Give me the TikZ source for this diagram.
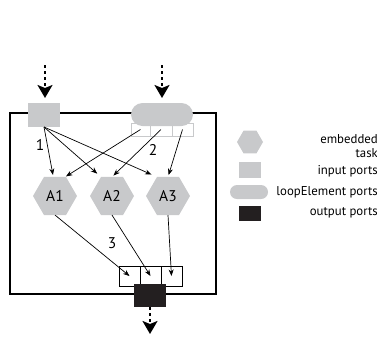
\documentclass[tikz,border=0pt]{standalone}
\usepackage{fontspec}
\setmainfont{PT Sans}
\usetikzlibrary{arrows.meta,shapes.geometric,shapes.misc}
\definecolor{pgray}{RGB}{200,201,203}
\definecolor{pblack}{RGB}{35,31,32}
\begin{document}
\begin{tikzpicture}[x=1pt,y=-1pt,
  hex/.style={regular polygon,regular polygon sides=6,minimum size=#1,fill=pgray,inner sep=0pt,outer sep=0pt,font=\fontsize{15.5}{17}\selectfont},
  inport/.style={rectangle,fill=pgray,minimum width=#1,minimum height=#1*0.7,inner sep=0pt,outer sep=0pt},
  pill/.style={rounded rectangle,fill=pgray,inner sep=0pt,outer sep=0pt},
  lbox/.style={rectangle,draw=pgray,fill=white,line width=1pt,minimum height=13pt,inner sep=0pt,outer sep=0pt},
  obox/.style={rectangle,draw=black,fill=white,line width=0.9pt,minimum width=21pt,minimum height=20pt,inner sep=0pt,outer sep=0pt},
  outport/.style={rectangle,fill=pblack,inner sep=0pt,outer sep=0pt},
  arr/.style={-{Stealth[length=6.5pt,width=5pt]},line width=0.7pt},
  darr/.style={line width=2pt,dash pattern=on 3pt off 3pt,-{Stealth[length=13pt,width=15pt,inset=3pt]}},
  num/.style={font=\fontsize{15.5}{17}\selectfont,inner sep=0pt},
  leg/.style={font=\fontsize{12.8}{14}\selectfont,anchor=east,inner sep=0pt,align=right}]
\useasboundingbox (0,0) rectangle (377,338);
% frame
\node[draw,line width=1.3pt,minimum width=206pt,minimum height=181pt,inner sep=0pt,outer sep=0pt] (frame) at (113,203.5) {};
% loop element boxes and pill
\node[lbox,minimum width=19pt] (l1) at (140.5,129.5) {};
\node[lbox,minimum width=22pt] (l2) at (161,129.5) {};
\node[lbox,minimum width=21pt] (l3) at (182.5,129.5) {};
\node[pill,minimum width=62pt,minimum height=23pt] (lp) at (162,114.5) {};
% input port
\node[rectangle,fill=pgray,minimum width=32pt,minimum height=24pt,inner sep=0pt,outer sep=0pt] (in) at (44,115) {};
% tasks
\node[hex=44pt] (A1) at (55,196) {A1};
\node[hex=44pt] (A2) at (112,196) {A2};
\node[hex=44pt] (A3) at (168,196) {A3};
% output
\node[obox] (o1) at (129.5,276) {};
\node[obox] (o2) at (150.5,276) {};
\node[obox] (o3) at (171.5,276) {};
\node[outport,minimum width=32pt,minimum height=23pt] (ob) at (150,295.5) {};
% dashed external arrows
\coordinate (t1) at (45,65);
\coordinate (t2) at (162,65);
\coordinate (b1) at (150,334);
\draw[darr,shorten >=5pt] (t1) -- (in.north -| t1);
\draw[darr,shorten >=5pt] (t2) -- (lp.north);
\draw[darr] (ob.south) -- (b1);
% input arrows
\draw[arr,shorten >=2pt] (in.south) -- (A1.95);
\draw[arr,shorten >=5pt] (in.south) -- (A2.120);
\draw[arr,shorten >=6pt] (in.south) -- (A3.120);
% loop arrows
\draw[arr,shorten >=1pt] (l1.center) -- (A1.62);
\draw[arr,shorten >=2pt] (l2.center) -- (A2.north);
\draw[arr,shorten >=2pt] (l3.center) -- (A3.north);
% output arrows
\draw[arr] (A1.south) -- (o1.center);
\draw[arr] (A2.south) -- (o2.center);
\draw[arr] (A3.south) -- (o3.center);
% numbers
\node[num] (n1) at (40,145) {1};
\node[num] (n2) at (153,150) {2};
\node[num] (n3) at (112,243) {3};
% legend
\node[hex=26pt] (lh) at (250,142) {};
\node[inport=22pt] (lin) at (250,170) {};
\node[pill,minimum width=38pt,minimum height=14pt] (lpill) at (249,192) {};
\node[outport,minimum width=22pt,minimum height=15pt] (lout) at (250,213.5) {};
\node[leg] (t_emb) at (378,146) {embedded\\task};
\node[leg] (t_in) at (378,171) {input ports};
\node[leg] (t_loop) at (378,192) {loopElement ports};
\node[leg] (t_out) at (378,213) {output ports};
\end{tikzpicture}
\end{document}
